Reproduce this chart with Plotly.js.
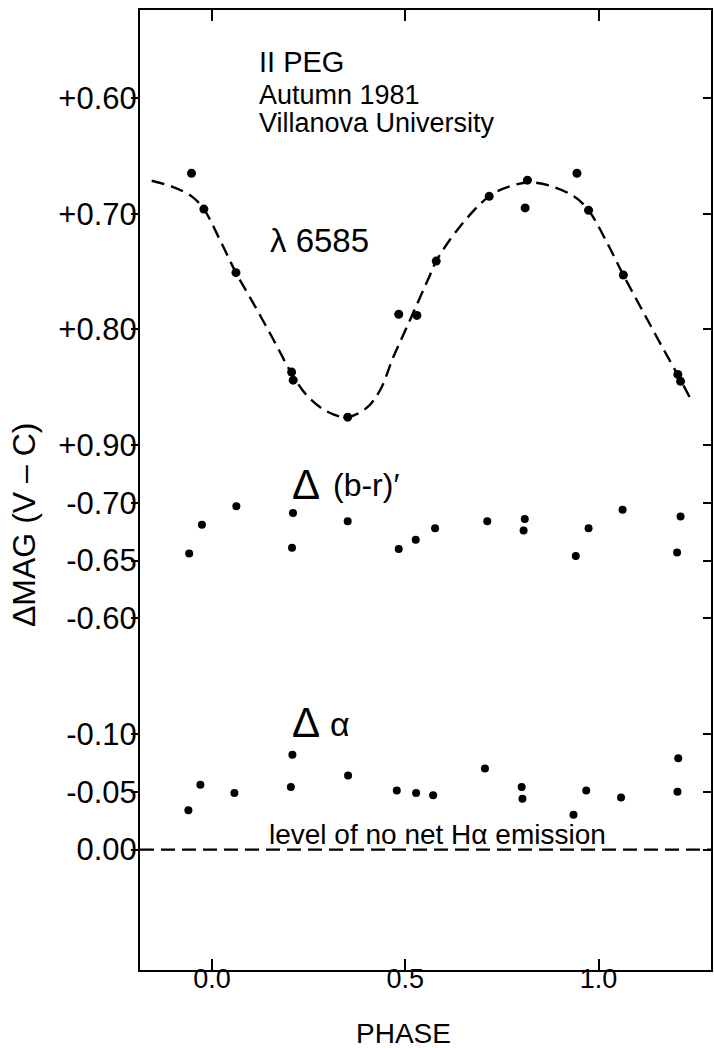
<!DOCTYPE html>
<html>
<head>
<meta charset="utf-8">
<script src="https://cdn.plot.ly/plotly-3.0.1.min.js"></script>
<style>
html,body{margin:0;padding:0;background:#fff;}
#chart{width:714px;height:1048px;}
</style>
</head>
<body>
<div id="chart"></div>
<script>
// ---------- data ----------
// lambda 6585 differential magnitudes
const phaseLambda = [-0.053,-0.021,0.062,0.206,0.210,0.351,0.483,0.530,0.580,0.717,0.816,0.810,0.944,0.974,1.064,1.205,1.212];
const magLambda   = [0.665,0.696,0.751,0.837,0.844,0.876,0.787,0.788,0.741,0.685,0.671,0.695,0.665,0.697,0.753,0.839,0.845];
// dashed mean light curve drawn through the lambda 6585 points
const curvePhase = [-0.156,-0.100,-0.0525,-0.021,0.021,0.062,0.107,0.159,0.209,0.245,0.297,0.348,0.400,0.435,0.469,0.504,0.564,0.580,0.6345,0.7165,0.773,0.824,0.876,0.936,0.974,1.0225,1.064,1.117,1.169,1.209,1.236];
const curveMag   = [0.6715,0.677,0.685,0.696,0.723,0.751,0.7775,0.809,0.840,0.857,0.871,0.876,0.868,0.8525,0.824,0.798,0.753,0.741,0.714,0.685,0.676,0.673,0.676,0.685,0.697,0.7256,0.753,0.786,0.818,0.842,0.859];
// Delta (b-r)'
const phaseColor = [-0.059,-0.026,0.063,0.2095,0.207,0.351,0.483,0.527,0.577,0.712,0.809,0.806,0.941,0.974,1.062,1.212,1.203];
const magColor   = [-0.656,-0.681,-0.697,-0.691,-0.661,-0.684,-0.660,-0.668,-0.678,-0.684,-0.686,-0.676,-0.654,-0.678,-0.694,-0.688,-0.657];
// Delta alpha
const phaseAlpha = [-0.061,-0.030,0.058,0.208,0.204,0.352,0.478,0.528,0.572,0.706,0.801,0.803,0.935,0.968,1.058,1.206,1.204];
const magAlpha   = [-0.034,-0.056,-0.049,-0.082,-0.054,-0.064,-0.051,-0.049,-0.047,-0.070,-0.054,-0.044,-0.030,-0.051,-0.045,-0.079,-0.050];
const noEmissionLevel = 0.00;

// tick labels of the three stacked scales
const lambdaTicks = [0.60, 0.70, 0.80, 0.90];
const colorTicks  = [-0.70, -0.65, -0.60];
const alphaTicks  = [-0.10, -0.05, 0.00];
const phaseTicks  = [0.0, 0.5, 1.0];

// each panel is stacked on a common axis: plotted = offset - magnitude
const OFF_LAMBDA = 1.25, OFF_COLOR = -0.40, OFF_ALPHA = 0.0;
const toP = (arr, off) => arr.map(v => off - v);

const fmt = v => {
  const s = Math.abs(v).toFixed(2);
  if (v > 0) return '+' + s;
  if (v < 0) return '-' + s;
  return s;
};

const tickvals = [].concat(toP(lambdaTicks, OFF_LAMBDA), toP(colorTicks, OFF_COLOR), toP(alphaTicks, OFF_ALPHA));
const ticktext = [].concat(lambdaTicks.map(fmt), colorTicks.map(fmt), alphaTicks.map(fmt));

const FONT = 'Liberation Sans, Arial, sans-serif';
const YRANGE = [-0.1042, 0.7262];
const XRANGE = [-0.1862, 1.2907];

const traces = [
  {x: curvePhase, y: toP(curveMag, OFF_LAMBDA), mode:'lines', line:{color:'#000', width:2.4, dash:'13px,7px', shape:'spline'}, yaxis:'y2', hoverinfo:'skip'},
  {x: phaseLambda, y: toP(magLambda, OFF_LAMBDA), mode:'markers', marker: {color:'#000', size:9}},
  {x: phaseColor, y: toP(magColor, OFF_COLOR), mode:'markers', marker: {color:'#000', size:8}},
  {x: phaseAlpha, y: toP(magAlpha, OFF_ALPHA), mode:'markers', marker: {color:'#000', size:8}}
];

const pw = 571, ph = 960, ml = 140, mt = 10;
const px = X => (X - ml) / pw;
const py = Y => (mt + ph - Y) / ph;
const note = (text, X, Y, size, anchor, extra) => Object.assign({
  text: text, xref:'paper', yref:'paper', x:px(X), y:py(Y),
  xanchor: anchor || 'left', yanchor:'middle', showarrow:false, font:{size:size, family:FONT, color:'#000'}
}, extra || {});

const layout = {
  width:714, height:1048,
  margin:{l:ml, r:3, t:mt, b:78},
  paper_bgcolor:'#fff', plot_bgcolor:'#fff',
  showlegend:false,
  font:{family:FONT, color:'#000'},
  xaxis:{
    range: XRANGE, tickvals: phaseTicks, ticktext: phaseTicks.map(v => v.toFixed(1)),
    ticks:'inside', ticklen:11, tickwidth:2, tickcolor:'#000',
    showline:true, linewidth:2, linecolor:'#000', mirror:'ticks',
    showgrid:false, zeroline:false,
    tickfont:{size:27, family:FONT}, ticklabelstandoff:-16
  },
  yaxis:{
    range: YRANGE, tickvals: tickvals, ticktext: ticktext,
    ticks:'outside', ticklen:7, tickwidth:2, tickcolor:'#000',
    showline:true, linewidth:2, linecolor:'#000',
    showgrid:false, zeroline:false,
    tickfont:{size:31, family:FONT}, ticklabelstandoff:-12
  },
  yaxis2:{
    range: YRANGE, tickvals: tickvals, overlaying:'y', side:'right', anchor:'x',
    ticks:'inside', ticklen:8, tickwidth:2, tickcolor:'#000',
    showline:true, linewidth:2, linecolor:'#000',
    showticklabels:false, showgrid:false, zeroline:false
  },
  shapes:[
    {type:'line', xref:'paper', x0:0, x1:1, yref:'y', y0: OFF_ALPHA - noEmissionLevel, y1: OFF_ALPHA - noEmissionLevel,
     line:{color:'#000', width:2.2, dash:'14px,7px'}}
  ],
  annotations:[
    note('II PEG', 257, 62, 29),
    note('Autumn 1981', 257, 95, 27),
    note('Villanova University', 257, 123, 27),
    note('λ 6585', 268, 241, 33),
    note('Δ', 290, 485, 42),
    note('(b-r)′', 331, 485, 32),
    note('Δ', 290, 722, 42),
    note('α', 328, 724, 34),
    note('level of no net Hα emission', 437, 834, 28, 'center'),
    note('PHASE', 403, 1033, 28, 'center'),
    note('ΔMAG (V – C)', 24, 525, 32, 'center', {textangle:-90})
  ]
};

Plotly.newPlot('chart', traces, layout, {displayModeBar:false, staticPlot:true});
</script>
</body>
</html>
